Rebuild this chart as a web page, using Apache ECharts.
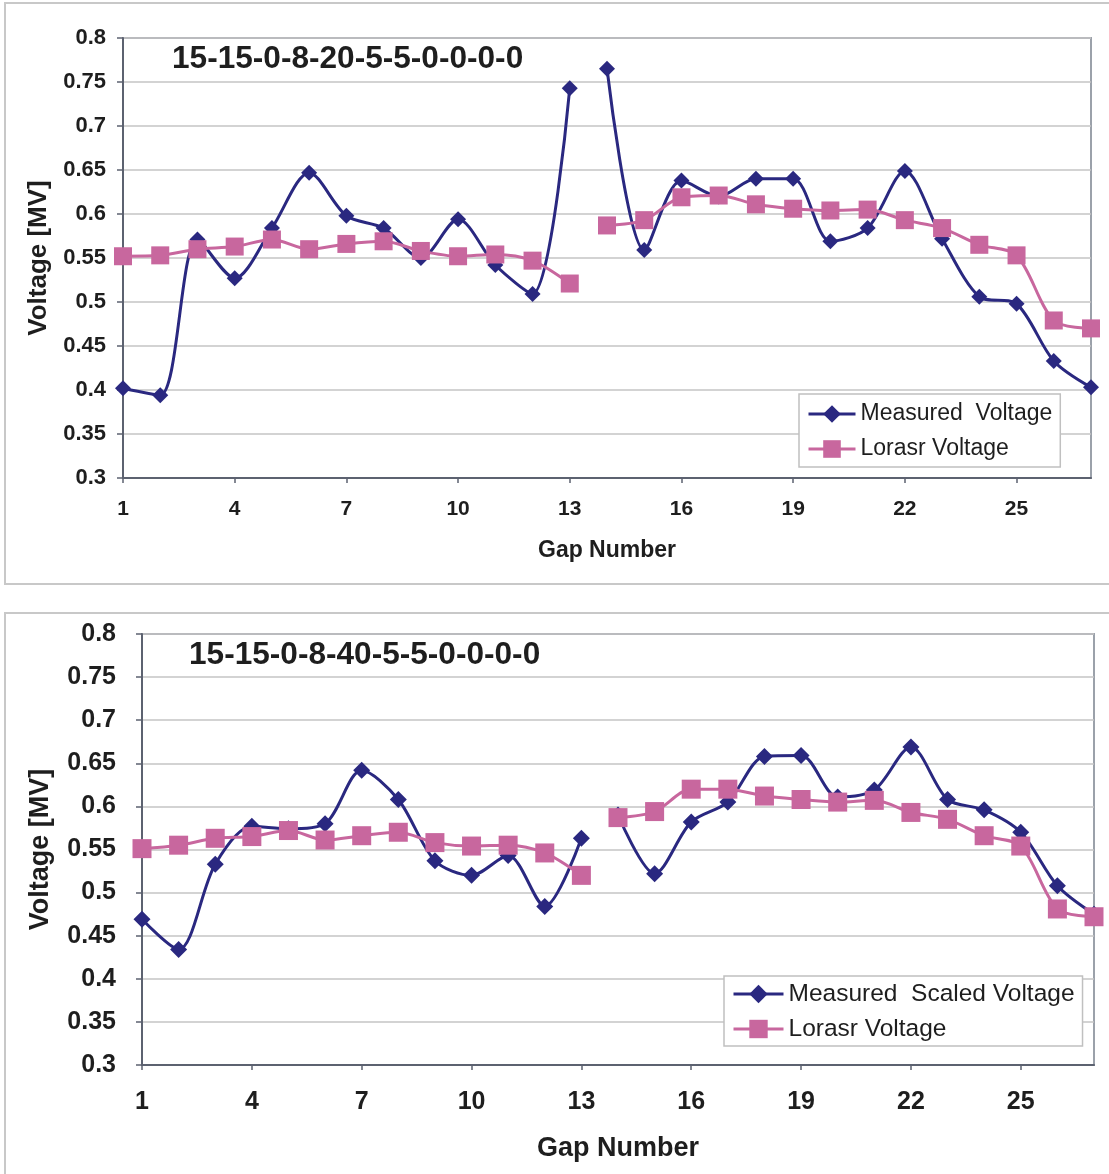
<!DOCTYPE html>
<html><head><meta charset="utf-8">
<script src="https://cdn.jsdelivr.net/npm/echarts@6/dist/echarts.min.js"></script>
<style>html,body{margin:0;padding:0;background:#fff}#c{width:1109px;height:1174px}</style>
</head><body><div id="c"></div>
<script>
// ---- data ----
const gapNumbers = ['1','2','3','4','5','6','7','8','9','10','11','12','13','14','15','16','17','18','19','20','21','22','23','24','25','26','27'];
const topTitle = '15-15-0-8-20-5-5-0-0-0-0';
const bottomTitle = '15-15-0-8-40-5-5-0-0-0-0';
const topMeasuredName = 'Measured  Voltage';
const bottomMeasuredName = 'Measured  Scaled Voltage';
const lorasrName = 'Lorasr Voltage';
const topMeasured = [0.402,0.394,0.571,0.527,0.584,0.647,0.598,0.584,0.550,0.594,0.542,0.509,0.743,0.765,0.559,0.638,0.620,0.640,0.640,0.569,0.584,0.649,0.572,0.506,0.498,0.433,0.403];
const topLorasr = [0.552,0.553,0.560,0.563,0.571,0.560,0.566,0.569,0.558,0.552,0.554,0.547,0.521,0.587,0.593,0.619,0.621,0.611,0.606,0.604,0.605,0.593,0.584,0.565,0.553,0.479,0.470];
const bottomMeasured = [0.469,0.434,0.533,0.577,0.574,0.580,0.642,0.608,0.537,0.520,0.543,0.484,0.563,0.590,0.522,0.582,0.605,0.658,0.659,0.611,0.619,0.669,0.608,0.596,0.570,0.508,0.475];
const bottomLorasr = [0.551,0.555,0.563,0.565,0.572,0.561,0.566,0.570,0.558,0.554,0.555,0.546,0.520,0.587,0.594,0.620,0.620,0.612,0.608,0.605,0.607,0.593,0.585,0.566,0.554,0.481,0.472];
const breakAfterGap = 13; // lines are not joined between gap 13 and gap 14

// ---- styling ----
const NAVY = '#2a2880';
const PINK = '#c8679e';
const AXIS = '#5c6270';
const GRIDLINE = '#c4c4c4';
const TEXT = '#1e1e1e';
const FONT = '"Liberation Sans", Arial, sans-serif';

function part(arr, first) {
  return arr.map((v, i) => (first ? (i < breakAfterGap ? v : null) : (i >= breakAfterGap ? v : null)));
}

function makeSeries(name, values, idx, color, symbol, size, smooth) {
  return [true, false].map(first => ({
    name: name, type: 'line', xAxisIndex: idx, yAxisIndex: idx,
    data: part(values, first), smooth: smooth, connectNulls: false,
    symbol: symbol, symbolSize: size, showSymbol: true,
    lineStyle: { color: color, width: 3 },
    itemStyle: { color: color },
    emphasis: { disabled: true },
    animation: false
  }));
}

function xAx(idx, fs, margin, nameFs, nameGap) {
  return {
    gridIndex: idx, type: 'category', data: gapNumbers, boundaryGap: false,
    axisLine: { lineStyle: { color: AXIS, width: 2 } },
    axisTick: { show: true, interval: 2, length: 5, lineStyle: { color: AXIS, width: 1.5 } },
    axisLabel: { interval: 2, margin: margin, fontSize: fs, fontWeight: 'bold', color: TEXT, fontFamily: FONT },
    splitLine: { show: false },
    name: 'Gap Number', nameLocation: 'middle', nameGap: nameGap,
    nameTextStyle: { fontSize: nameFs, fontWeight: 'bold', color: TEXT, fontFamily: FONT }
  };
}
function yAx(idx, fs, margin, nameFs, nameGap) {
  return {
    gridIndex: idx, type: 'value', min: 0.3, max: 0.8, interval: 0.05,
    axisLine: { show: true, lineStyle: { color: AXIS, width: 2 } },
    axisTick: { show: true, length: 6, lineStyle: { color: AXIS, width: 1.5 } },
    axisLabel: { margin: margin, fontSize: fs, fontWeight: 'bold', color: TEXT, fontFamily: FONT,
      formatter: v => String(+v.toFixed(2)) },
    splitLine: { show: true, lineStyle: { color: GRIDLINE, width: 1.5 } },
    name: 'Voltage [MV]', nameLocation: 'middle', nameRotate: 90, nameGap: nameGap,
    nameTextStyle: { fontSize: nameFs, fontWeight: 'bold', color: TEXT, fontFamily: FONT }
  };
}

const chart = echarts.init(document.getElementById('c'), null, { renderer: 'canvas' });
chart.setOption({
  backgroundColor: '#ffffff',
  animation: false,
  graphic: [
    { type: 'rect', shape: { x: 5, y: 3, width: 1110, height: 581 }, style: { fill: 'none', stroke: '#c8c8c8', lineWidth: 2 }, z: -1 },
    { type: 'rect', shape: { x: 5, y: 613, width: 1110, height: 600 }, style: { fill: 'none', stroke: '#c8c8c8', lineWidth: 2 }, z: -1 }
  ],
  title: [
    { text: topTitle, left: 172, top: 43, padding: 0, textStyle: { fontSize: 31.6, fontWeight: 'bold', color: TEXT, fontFamily: FONT } },
    { text: bottomTitle, left: 189, top: 639, padding: 0, textStyle: { fontSize: 31.6, fontWeight: 'bold', color: TEXT, fontFamily: FONT } }
  ],
  grid: [
    { left: 123, top: 38, width: 968, height: 440, show: true, borderColor: '#9ba1aa', borderWidth: 2, backgroundColor: 'transparent' },
    { left: 142, top: 634, width: 952, height: 431, show: true, borderColor: '#9ba1aa', borderWidth: 2, backgroundColor: 'transparent' }
  ],
  xAxis: [ xAx(0, 21, 21, 23, 61), xAx(1, 25, 25, 27, 70) ],
  yAxis: [ yAx(0, 22, 17, 26, 70), yAx(1, 25, 26, 27, 88) ],
  legend: [
    { data: [topMeasuredName, lorasrName], orient: 'vertical', left: 799, top: 394,
      padding: [8, 8, 6, 8], itemGap: 11, itemWidth: 47, itemHeight: 22, itemTextGap: 7,
      lineStyle: { width: 3 },
      backgroundColor: '#ffffff', borderColor: '#c0c0c0', borderWidth: 1.5, selectedMode: false,
      textStyle: { fontSize: 23, lineHeight: 24, color: TEXT, fontFamily: FONT } },
    { data: [bottomMeasuredName, lorasrName], orient: 'vertical', left: 724, top: 976,
      padding: [5, 8, 4, 8], itemGap: 9, itemWidth: 50, itemHeight: 23, itemTextGap: 7,
      lineStyle: { width: 3 },
      backgroundColor: '#ffffff', borderColor: '#c0c0c0', borderWidth: 1.5, selectedMode: false,
      textStyle: { fontSize: 24.5, lineHeight: 26, color: TEXT, fontFamily: FONT } }
  ],
  series: [
    ...makeSeries(topMeasuredName, topMeasured, 0, NAVY, 'diamond', 16, 0.3),
    ...makeSeries(lorasrName, topLorasr, 0, PINK, 'rect', 18, 0.3),
    ...makeSeries(bottomMeasuredName, bottomMeasured, 1, NAVY, 'diamond', 17, 0.3),
    ...makeSeries(lorasrName, bottomLorasr, 1, PINK, 'rect', 19, 0.3)
  ]
});
</script>
</body></html>
